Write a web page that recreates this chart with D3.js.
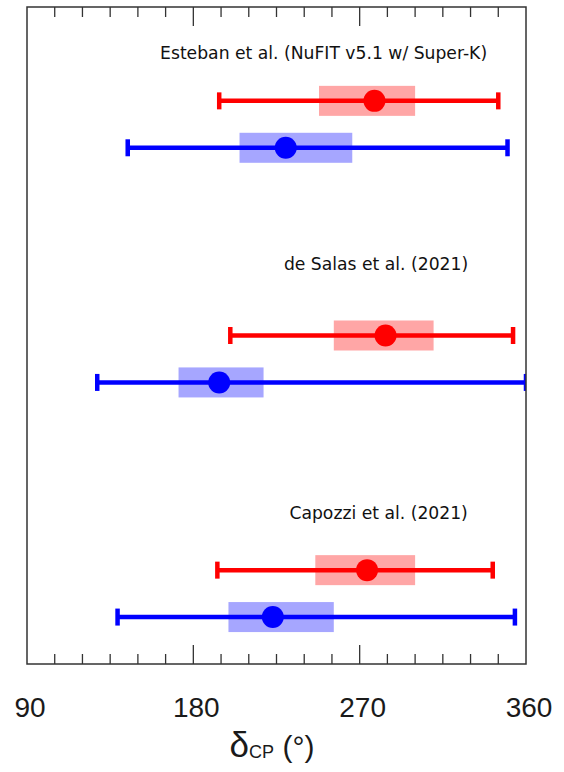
<!DOCTYPE html>
<html>
<head>
<meta charset="utf-8">
<script src="https://cdn.jsdelivr.net/npm/d3@7"></script>
<style>
  body { margin: 0; background: #fff; }
  svg { display: block; }
</style>
</head>
<body>
<div id="chart"></div>
<script>
// delta_CP fits: red = inverted ordering, blue = normal ordering (degrees)
const studies = ["Esteban et al. (NuFIT v5.1 w/ Super-K)", "de Salas et al. (2021)", "Capozzi et al. (2021)"];

const ioBest = [278, 284, 274];
const ioLo1  = [248, 256, 246];
const ioHi1  = [300, 310, 300];
const ioLo3  = [194, 200, 193];
const ioHi3  = [345, 353, 342];

const noBest = [230, 194, 223];
const noLo1  = [205, 172, 199];
const noHi1  = [266, 218, 256];
const noLo3  = [144.5, 128, 139];
const noHi3  = [350, 360, 354];

// row index of each study on the (hidden) vertical axis
const ioRow    = [12, 7, 2];
const noRow    = [11, 6, 1];
const labelRow = [12.9, 8.4, 3.1];
const labelDeg = [162, 229, 232];

const xTicks = [90, 180, 270, 360];

const W = 564, H = 772;
const margin = { top: 7, right: 38, bottom: 108, left: 27 };

const svg = d3.select("#chart").append("svg")
  .attr("width", W)
  .attr("height", H);

const x = d3.scaleLinear().domain([90, 360]).range([margin.left, W - margin.right]);
const y = d3.scaleLinear().domain([0, 14]).range([H - margin.bottom, margin.top]);

svg.append("defs").append("clipPath")
  .attr("id", "plotclip")
  .append("rect")
  .attr("x", x(90)).attr("y", y(14))
  .attr("width", x(360) - x(90)).attr("height", y(0) - y(14));

const plot = svg.append("g").attr("clip-path", "url(#plotclip)");

function drawSeries(best, lo1, hi1, lo3, hi3, rows, color, fillColor) {
  const d = best.map((b, i) => ({ b, l1: lo1[i], h1: hi1[i], l3: lo3[i], h3: hi3[i], r: rows[i] }));
  const g = plot.append("g");
  // 1 sigma box
  g.selectAll("rect.box").data(d).enter().append("rect")
    .attr("class", "box")
    .attr("x", e => x(e.l1))
    .attr("width", e => x(e.h1) - x(e.l1))
    .attr("y", e => y(e.r) - 15)
    .attr("height", 30)
    .style("fill", fillColor);
  // 3 sigma range
  g.selectAll("line.range").data(d).enter().append("line")
    .attr("x1", e => x(e.l3)).attr("x2", e => x(e.h3))
    .attr("y1", e => y(e.r)).attr("y2", e => y(e.r))
    .style("stroke", color).style("stroke-width", 4.5);
  // caps
  ["l3", "h3"].forEach(k => {
    g.selectAll("line.cap" + k).data(d).enter().append("line")
      .attr("x1", e => x(e[k])).attr("x2", e => x(e[k]))
      .attr("y1", e => y(e.r) - 8.5).attr("y2", e => y(e.r) + 8.5)
      .style("stroke", color).style("stroke-width", 4.5);
  });
  // best fit
  g.selectAll("circle").data(d).enter().append("circle")
    .attr("cx", e => x(e.b)).attr("cy", e => y(e.r))
    .attr("r", 11)
    .style("fill", color);
}

drawSeries(ioBest, ioLo1, ioHi1, ioLo3, ioHi3, ioRow, "#ff0000", "#ffa6a6");
drawSeries(noBest, noLo1, noHi1, noLo3, noHi3, noRow, "#0000ff", "#a6a6ff");

// study labels
svg.selectAll("text.study").data(studies).enter().append("text")
  .attr("class", "study")
  .attr("x", (d, i) => x(labelDeg[i]))
  .attr("y", (d, i) => y(labelRow[i]))
  .style("font-family", "DejaVu Sans")
  .style("font-size", "17.2px")
  .style("fill", "#111")
  .text(d => d);

// ticks, inward on top and bottom
const minor = d3.range(105, 360, 15);
const major = [180, 270];
const frame = svg.append("g");
minor.forEach(v => {
  const len = major.includes(v) ? 19 : 10;
  frame.append("line")
    .attr("x1", x(v)).attr("x2", x(v))
    .attr("y1", y(0)).attr("y2", y(0) - len)
    .style("stroke", "#333").style("stroke-width", 1.3);
  frame.append("line")
    .attr("x1", x(v)).attr("x2", x(v))
    .attr("y1", y(14)).attr("y2", y(14) + len)
    .style("stroke", "#333").style("stroke-width", 1.3);
});
frame.append("rect")
  .attr("x", x(90)).attr("y", y(14))
  .attr("width", x(360) - x(90)).attr("height", y(0) - y(14))
  .style("fill", "none").style("stroke", "#333").style("stroke-width", 1.5);

// tick labels
svg.selectAll("text.tick").data(xTicks).enter().append("text")
  .attr("class", "tick")
  .attr("x", d => x(d) + 3)
  .attr("y", 717)
  .attr("text-anchor", "middle")
  .style("font-family", "Liberation Sans, Arial, sans-serif")
  .style("font-size", "28px")
  .style("fill", "#1a1a1a")
  .text(d => d);

// axis title
const title = svg.append("text")
  .attr("x", 272).attr("y", 757)
  .attr("text-anchor", "middle")
  .style("font-family", "Liberation Sans, Arial, sans-serif")
  .style("fill", "#1a1a1a");
title.append("tspan").style("font-size", "35px").text("δ");
title.append("tspan").style("font-size", "18px").attr("dy", 1).text("CP");
title.append("tspan").style("font-size", "30px").attr("dy", -1).text(" (°)");
</script>
</body>
</html>
